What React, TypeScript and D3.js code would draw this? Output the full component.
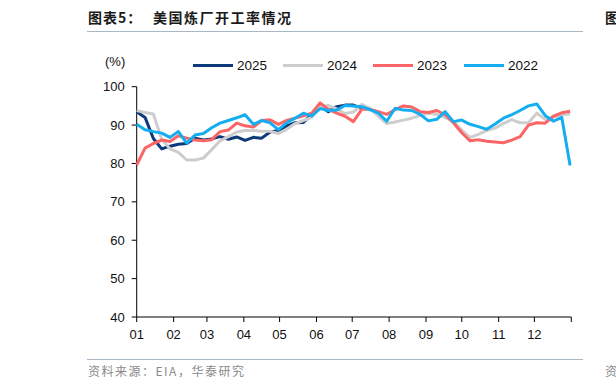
import React from 'react';
import * as d3 from 'd3';

const WIDTH = 616;
const HEIGHT = 389;
const MARGIN = { TOP: 86.7, BOTTOM: 72, LEFT: 136.7, RIGHT: 44.7 };

const SERIES_NAMES = ['2025', '2024', '2023', '2022'];
const SERIES_COLORS = ['#0c3a7a', '#cdcdcd', '#fb6566', '#14aef0'];

// weekly refinery utilisation (%), one value per week from the first week of January
const util2025 = [93.5, 92.0, 86.5, 83.8, 84.5, 85.0, 85.2, 86.6, 86.1, 86.4, 87.0, 86.3, 86.9, 86.0, 86.8, 86.6, 88.2, 88.6, 89.8, 90.6, 90.7, 92.8, 95.0, 93.5, 94.8, 95.2, 95.2, 94.3];
const util2024 = [93.8, 93.3, 92.9, 86.3, 83.8, 82.9, 80.9, 80.9, 81.4, 83.6, 85.9, 87.0, 88.2, 88.6, 88.6, 88.4, 88.4, 87.8, 88.9, 90.4, 91.2, 92.0, 94.8, 95.1, 94.2, 93.0, 93.4, 95.4, 94.3, 92.3, 90.4, 90.8, 91.3, 91.8, 92.5, 93.1, 92.8, 92.0, 90.9, 88.7, 86.8, 87.6, 88.6, 89.2, 90.4, 91.4, 90.6, 90.6, 93.1, 91.5, 92.1, 92.7, 92.9];
const util2023 = [79.6, 84.0, 85.2, 86.1, 85.7, 87.2, 86.6, 86.1, 85.9, 86.2, 88.3, 88.7, 90.5, 89.8, 89.5, 91.2, 91.4, 90.2, 91.2, 91.8, 92.4, 93.1, 95.8, 94.1, 93.1, 92.3, 90.9, 94.1, 94.1, 93.5, 92.8, 94.0, 95.0, 94.7, 93.5, 93.3, 93.8, 92.7, 90.6, 88.0, 85.9, 86.2, 85.8, 85.6, 85.4, 86.1, 87.0, 90.0, 90.6, 90.5, 92.3, 93.2, 93.6];
const util2022 = [90.2, 88.8, 88.3, 87.9, 86.8, 88.3, 85.3, 87.4, 87.8, 89.3, 90.5, 91.2, 91.9, 92.7, 90.2, 91.2, 90.6, 88.8, 90.6, 91.8, 93.1, 92.4, 94.3, 93.8, 93.9, 95.1, 95.0, 94.8, 94.0, 93.1, 91.0, 94.4, 93.9, 93.8, 92.8, 91.1, 91.5, 93.5, 90.9, 91.3, 90.2, 89.6, 88.9, 90.3, 91.8, 92.7, 93.8, 95.0, 95.5, 92.5, 91.0, 92.0, 79.5];

const SERIES = [util2025, util2024, util2023, util2022];

const MONTH_LABELS = ['01', '02', '03', '04', '05', '06', '07', '08', '09', '10', '11', '12'];
const Y_TICKS = [40, 50, 60, 70, 80, 90, 100];

const TITLE_PREFIX = '图表5：';
const TITLE = '美国炼厂开工率情况';
const SOURCE = '资料来源：EIA，华泰研究';

const NUM_FONT = '"Liberation Sans", Arial, sans-serif';
const CJK_FONT = '"Noto Sans CJK SC", "Liberation Sans", sans-serif';

const yearStart = new Date(2023, 0, 1);
const yearEnd = new Date(2024, 0, 1);
const weekDate = (i: number): Date => d3.timeDay.offset(yearStart, i * 7);

export default function App(): JSX.Element {
  const x = d3
    .scaleTime()
    .domain([yearStart, yearEnd])
    .range([MARGIN.LEFT, WIDTH - MARGIN.RIGHT]);
  const y = d3
    .scaleLinear()
    .domain([40, 100])
    .range([HEIGHT - MARGIN.BOTTOM, MARGIN.TOP]);

  const monthTicks = d3.timeMonth.range(yearStart, d3.timeDay.offset(yearEnd, 1));

  const line = d3
    .line<number>()
    .x((_, i) => x(weekDate(i)))
    .y((d) => y(d));

  const x0 = x.range()[0];
  const x1 = x.range()[1];
  const yBase = y(40);

  // legend layout: swatch then label, four entries in a row
  const legendX = [193, 283, 373, 464];
  const legendY = 65.5;

  return (
    <div style={{ position: 'absolute', left: 0, top: 0 }}>
      <svg width={WIDTH} height={HEIGHT} style={{ display: 'block', background: '#fff' }}>
        {/* title */}
        <text x={88} y={23} fontFamily={CJK_FONT} fontWeight="bold" fontSize={14} fill="#1a1a1a" letterSpacing={1}>
          {TITLE_PREFIX}
        </text>
        <text x={153} y={23} fontFamily={CJK_FONT} fontWeight="bold" fontSize={14} fill="#1a1a1a" letterSpacing={1.5}>
          {TITLE}
        </text>
        <text x={605} y={23} fontFamily={CJK_FONT} fontWeight="bold" fontSize={14} fill="#1a1a1a">
          图
        </text>
        <line x1={87} x2={583} y1={31.5} y2={31.5} stroke="#a9b7c7" strokeWidth={1} />

        {/* unit */}
        <text x={105} y={66} fontFamily={NUM_FONT} fontSize={13} fill="#111">
          (%)
        </text>

        {/* legend */}
        {SERIES_NAMES.map((name, i) => (
          <g key={name}>
            <line x1={legendX[i]} x2={legendX[i] + 40} y1={legendY} y2={legendY} stroke={SERIES_COLORS[i]} strokeWidth={3} />
            <text x={legendX[i] + 44} y={legendY} dy="0.35em" fontFamily={NUM_FONT} fontSize={13.5} fill="#111">
              {name}
            </text>
          </g>
        ))}

        {/* y axis */}
        <line x1={x0} x2={x0} y1={y(100)} y2={yBase} stroke="#000" strokeWidth={1} />
        {Y_TICKS.map((t) => (
          <g key={t}>
            <line x1={x0 - 5} x2={x0} y1={y(t)} y2={y(t)} stroke="#000" strokeWidth={1} />
            <text x={x0 - 12} y={y(t)} dy="0.35em" textAnchor="end" fontFamily={NUM_FONT} fontSize={13} fill="#111">
              {t}
            </text>
          </g>
        ))}

        {/* x axis */}
        <line x1={x0} x2={x1} y1={yBase} y2={yBase} stroke="#000" strokeWidth={1} />
        {monthTicks.map((d, i) => (
          <g key={i}>
            <line x1={x(d)} x2={x(d)} y1={yBase} y2={yBase + 5} stroke="#000" strokeWidth={1} />
            {i < MONTH_LABELS.length && (
              <text x={x(d)} y={yBase + 17} dy="0.35em" textAnchor="middle" fontFamily={NUM_FONT} fontSize={13} fill="#111">
                {MONTH_LABELS[i]}
              </text>
            )}
          </g>
        ))}

        {/* series, drawn in legend order so 2022 sits on top */}
        {SERIES.map((values, i) => (
          <path
            key={SERIES_NAMES[i]}
            d={line(values) || ''}
            fill="none"
            stroke={SERIES_COLORS[i]}
            strokeWidth={3}
            strokeLinejoin="round"
          />
        ))}

        {/* source */}
        <line x1={87} x2={583} y1={359.5} y2={359.5} stroke="#a9b7c7" strokeWidth={1} />
        <text x={88} y={375.5} fontFamily={CJK_FONT} fontSize={12} fill="#8a8a8a" letterSpacing={1.5}>
          {SOURCE}
        </text>
        <text x={605} y={375.5} fontFamily={CJK_FONT} fontSize={12} fill="#8a8a8a">
          资
        </text>
      </svg>
    </div>
  );
}
